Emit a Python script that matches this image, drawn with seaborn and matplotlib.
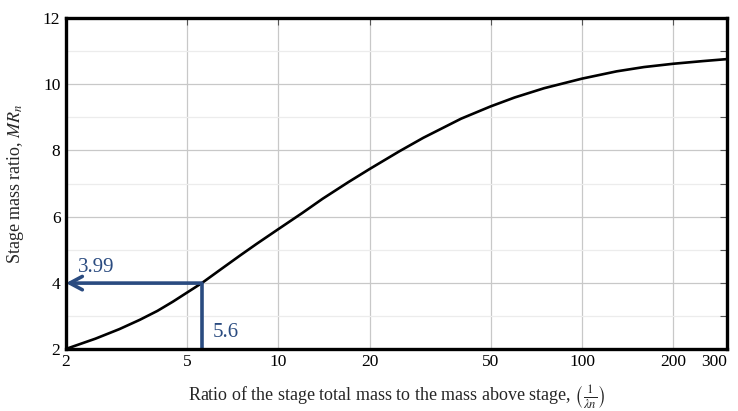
import matplotlib
matplotlib.use("Agg")
import matplotlib.pyplot as plt
from matplotlib.ticker import FixedLocator, NullFormatter, NullLocator
import seaborn as sns
import pandas as pd

# Stage mass ratio against the ratio of stage total mass to mass above stage
mass_ratio_inv = [2, 2.5, 3, 3.5, 4, 4.5, 5, 5.6, 6.5, 7.5, 8.5, 10, 12, 14, 17,
                  20, 25, 30, 40, 50, 60, 75, 100, 130, 160, 200, 250, 300]
stage_mr = [2.00, 2.31, 2.60, 2.88, 3.15, 3.43, 3.70, 3.99, 4.42, 4.83, 5.18,
            5.62, 6.11, 6.54, 7.04, 7.44, 7.97, 8.38, 8.96, 9.33, 9.60, 9.88,
            10.17, 10.39, 10.52, 10.62, 10.70, 10.76]

x_ticks = [2, 5, 10, 20, 50, 100, 200, 300]
x_tick_labels = ["2", "5", "10", "20", "50", "100", "200", "300"]
y_ticks = [2, 4, 6, 8, 10, 12]

read_x = 5.6
read_y = 3.99

df = pd.DataFrame({"inv_lambda": mass_ratio_inv, "mr": stage_mr})

sns.set_theme(style="white")
plt.rcParams["font.family"] = ["Liberation Serif", "DejaVu Serif"]
plt.rcParams["mathtext.fontset"] = "stix"

blue = "#2a4b80"

fig = plt.figure(figsize=(7.38, 4.11), dpi=100)
ax = fig.add_axes([0.0894, 0.151, 0.8956, 0.805])

sns.lineplot(data=df, x="inv_lambda", y="mr", ax=ax, color="black", lw=1.9, zorder=4)

ax.set_xscale("log")
ax.set_xlim(2, 300)
ax.set_ylim(2, 12)

ax.xaxis.set_major_locator(FixedLocator(x_ticks))
ax.set_xticklabels(x_tick_labels)
ax.xaxis.set_minor_locator(NullLocator())
ax.xaxis.set_minor_formatter(NullFormatter())
ax.yaxis.set_major_locator(FixedLocator(y_ticks))
ax.yaxis.set_minor_locator(FixedLocator([3, 5, 7, 9, 11]))

ax.grid(True, which="major", color="#c8c8c8", lw=0.9, zorder=0)
ax.grid(True, which="minor", axis="y", color="#ececec", lw=0.9, zorder=0)

ax.tick_params(which="both", direction="in", top=True, right=True,
               length=5, width=0.8, color="#555555", labelsize=12.5,
               labelcolor="black", pad=4)
# keep the last x label inside the figure
ax.get_xticklabels()[-1].set_horizontalalignment("right")

for s in ax.spines.values():
    s.set_linewidth(2.4)
    s.set_color("black")
    s.set_zorder(6)

ax.set_xlabel(r"Ratio of the stage total mass to the mass above stage, $\left(\frac{1}{\lambda n}\right)$",
              fontsize=13, labelpad=9)
ax.set_ylabel(r"Stage mass ratio, $MR_n$", fontsize=13, labelpad=12)

# reading: vertical from the axis up to the curve, then across to the y axis
ax.plot([read_x, read_x], [2, read_y], color=blue, lw=2.6, zorder=5,
        solid_capstyle="butt")
ax.annotate("", xy=(2.0, read_y), xytext=(read_x, read_y),
            arrowprops=dict(arrowstyle="->,head_length=0.75,head_width=0.4",
                            color=blue, lw=2.6, shrinkA=0, shrinkB=0),
            zorder=5)
ax.text(2.19, 4.33, f"{read_y:.2f}", color=blue, fontsize=15,
        va="baseline", ha="left")
ax.text(6.1, 2.36, f"{read_x:.1f}", color=blue, fontsize=15,
        va="baseline", ha="left")

fig.savefig("out.png", dpi=100)
